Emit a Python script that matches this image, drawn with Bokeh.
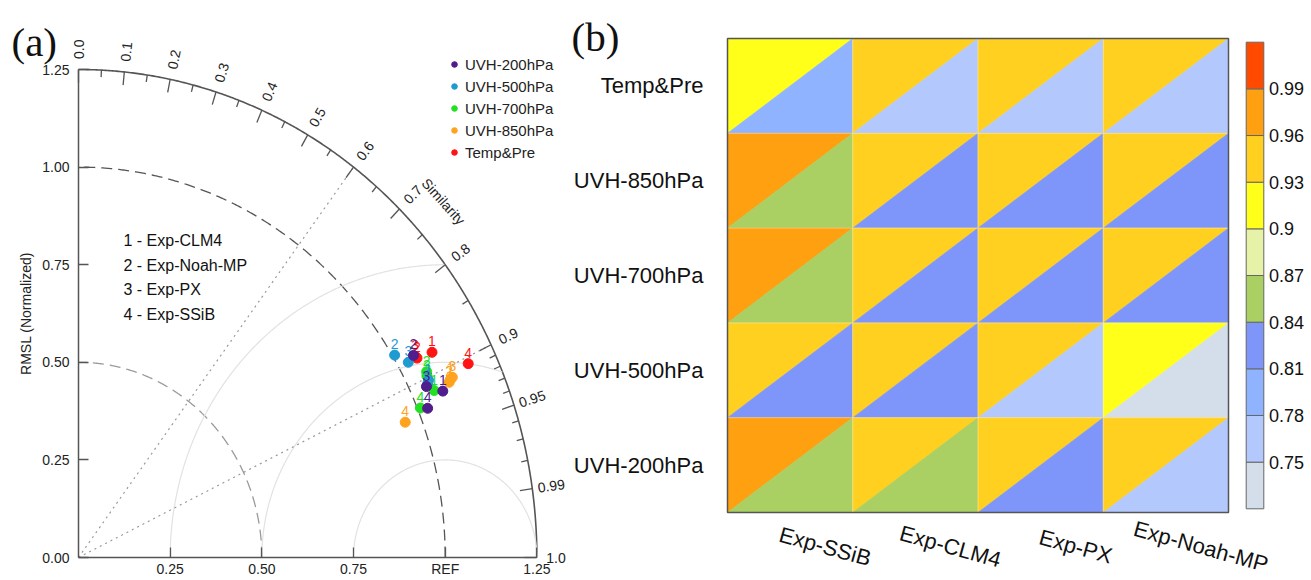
import numpy as np
from bokeh.plotting import figure
from bokeh.models import (Range1d, FixedTicker, NumeralTickFormatter, Legend,
                          LegendItem, LinearAxis, LinearColorMapper, ColumnDataSource)
from bokeh.layouts import row
from bokeh.core.properties import value
from bokeh.embed import file_html
from bokeh.resources import INLINE

SANS = "Liberation Sans"
SERIF = "Liberation Serif"

# ---------------- data: panel (a) Taylor diagram ----------------
exp_numbers = ["1", "2", "3", "4"]
exp_names = ["Exp-CLM4", "Exp-Noah-MP", "Exp-PX", "Exp-SSiB"]
series_names = ["UVH-200hPa", "UVH-500hPa", "UVH-700hPa", "UVH-850hPa", "Temp&Pre"]
series_colors = ["#4f1d8c", "#1f9bd1", "#22e022", "#ffa31f", "#ff1414"]

# normalized standard deviation ratio and correlation ("Similarity") per experiment 1..4
std_uvh200 = [1.081, 1.050, 1.045, 1.026]
cor_uvh200 = [0.919, 0.870, 0.908, 0.928]
std_uvh500 = [1.057, 1.006, 1.029, 1.051]
cor_uvh500 = [0.903, 0.857, 0.874, 0.906]
std_uvh700 = [1.060, 1.062, 1.058, 1.008]
cor_uvh700 = [0.915, 0.894, 0.898, 0.925]
std_uvh850 = [1.112, 1.106, 1.119, 0.956]
cor_uvh850 = [0.912, 0.914, 0.911, 0.932]
std_temppre = [1.098, 1.055, 1.053, 1.173]
cor_temppre = [0.878, 0.875, 0.872, 0.906]

corr_major = [0.0, 0.1, 0.2, 0.3, 0.4, 0.5, 0.6, 0.7, 0.8, 0.9, 0.95, 0.99, 1.0]
corr_major_labels = ["0.0", "0.1", "0.2", "0.3", "0.4", "0.5", "0.6", "0.7", "0.8",
                     "0.9", "0.95", "0.99", "1.0"]
corr_minor = [0.05, 0.15, 0.25, 0.35, 0.45, 0.55, 0.65, 0.75, 0.85,
              0.91, 0.92, 0.93, 0.94, 0.96, 0.97, 0.98]
std_ticks = [0.0, 0.25, 0.5, 0.75, 1.0, 1.25]
ref_ticks = [0.25, 0.5, 0.75, 1.0, 1.25]
rms_circles = [0.25, 0.5, 0.75]
corr_guides = [0.6, 0.9]

# ---------------- data: panel (b) triangle heat map ----------------
row_names = ["Temp&Pre", "UVH-850hPa", "UVH-700hPa", "UVH-500hPa", "UVH-200hPa"]  # top -> bottom
col_names = ["Exp-SSiB", "Exp-CLM4", "Exp-PX", "Exp-Noah-MP"]
upper_vals = [
    [0.91, 0.94, 0.94, 0.94],
    [0.97, 0.94, 0.94, 0.94],
    [0.97, 0.94, 0.94, 0.94],
    [0.94, 0.94, 0.94, 0.91],
    [0.97, 0.94, 0.94, 0.94],
]
lower_vals = [
    [0.79, 0.76, 0.76, 0.76],
    [0.85, 0.82, 0.82, 0.82],
    [0.85, 0.82, 0.82, 0.82],
    [0.82, 0.82, 0.76, 0.73],
    [0.85, 0.85, 0.82, 0.76],
]
level_low, level_high = 0.72, 1.02
level_labels = ["0.75", "0.78", "0.81", "0.84", "0.87", "0.9", "0.93", "0.96", "0.99"]
palette = ["#d3deea", "#b3c8fc", "#8fb3ff", "#7e96fa", "#aacf62",
           "#e5f2a8", "#ffff1a", "#ffd020", "#ffa010", "#ff4a00"]

H = 578
WA, WB = 568, 741

# =================== panel (a) ===================
PXX, PXY = 366.7, 390.4          # pixels per unit
OX, OY = 78, 557                 # origin in pixels
pa = figure(width=WA, height=H,
            x_range=Range1d(-OX / PXX, (WA - OX) / PXX),
            y_range=Range1d(-(H - OY) / PXY, OY / PXY),
            output_backend="svg", toolbar_location=None, min_border=0,
            x_axis_location=None, y_axis_location=None)
pa.outline_line_color = None
pa.xgrid.visible = False
pa.ygrid.visible = False

xax = LinearAxis(fixed_location=0, ticker=FixedTicker(ticks=ref_ticks))
yax = LinearAxis(fixed_location=0, ticker=FixedTicker(ticks=std_ticks))
for ax in (xax, yax):
    ax.bounds = (0, 1.25)
    ax.axis_line_color = "#555555"
    ax.axis_line_width = 1.5
    ax.major_tick_line_color = "#555555"
    ax.major_tick_line_width = 1.3
    ax.major_tick_in = 10
    ax.major_tick_out = 0
    ax.minor_tick_in = 0
    ax.minor_tick_out = 0
    ax.major_label_text_font = SANS
    ax.major_label_text_font_size = "14px"
    ax.major_label_text_color = "#222222"
    ax.formatter = NumeralTickFormatter(format="0.00")
xax.major_label_overrides = {1.0: "REF", "1": "REF"}
xax.major_label_standoff = 3
yax.major_label_standoff = 9
yax.axis_label = "RMSL (Normalized)"
yax.axis_label_text_font = SANS
yax.axis_label_text_font_style = "normal"
yax.axis_label_text_font_size = "14px"
yax.axis_label_text_color = "#222222"
yax.axis_label_standoff = 5
pa.add_layout(xax, "below")
pa.add_layout(yax, "left")

th = np.linspace(0, np.pi / 2, 400)
R_OUT = 1.25
pa.line(R_OUT * np.cos(th), R_OUT * np.sin(th), line_color="#555555", line_width=1.6)
pa.line(np.cos(th), np.sin(th), line_color="#555555", line_width=1.3, line_dash="11 6")
pa.line(0.5 * np.cos(th), 0.5 * np.sin(th), line_color="#9a9a9a", line_width=1.3,
        line_dash="11 6")

# RMS circles centred on REF
phi = np.linspace(0, np.pi, 600)
xs_r, ys_r = [], []
for rr in rms_circles:
    x = 1 + rr * np.cos(phi)
    y = rr * np.sin(phi)
    keep = x ** 2 + y ** 2 <= R_OUT ** 2 + 1e-9
    xs_r.append(list(x[keep]))
    ys_r.append(list(y[keep]))
pa.multi_line(xs_r, ys_r, line_color="#e2e2e2", line_width=1.2)

# dotted correlation guides
for c in corr_guides:
    a = np.arccos(c)
    pa.line([0, R_OUT * np.cos(a)], [0, R_OUT * np.sin(a)], line_color="#999999",
            line_width=1.2, line_dash="2 4")

# ticks on the outer (correlation) arc
def arc_ticks(vals, length):
    a = np.arccos(np.array(vals))
    return (R_OUT * np.cos(a), R_OUT * np.sin(a),
            (R_OUT - length) * np.cos(a), (R_OUT - length) * np.sin(a))

x0, y0, x1, y1 = arc_ticks(corr_major, 0.034)
pa.segment(x0, y0, x1, y1, line_color="#555555", line_width=1.3)
x0, y0, x1, y1 = arc_ticks(corr_minor, 0.018)
pa.segment(x0, y0, x1, y1, line_color="#555555", line_width=1.3)

ang = np.arccos(np.array(corr_major))
R_LAB = 1.302
pa.text(R_LAB * np.cos(ang), R_LAB * np.sin(ang), text=corr_major_labels, angle=ang,
        text_align="center", text_baseline="middle", text_font=value(SANS),
        text_font_size="14px", text_color="#222222")

sim_a = np.radians(42.5)
pa.text([1.35 * np.cos(sim_a)], [1.35 * np.sin(sim_a)], text=["Similarity"],
        angle=-0.84, text_align="center", text_baseline="middle",
        text_font=value(SANS), text_font_size="14px", text_color="#222222")

# points
series_std = [std_uvh200, std_uvh500, std_uvh700, std_uvh850, std_temppre]
series_cor = [cor_uvh200, cor_uvh500, cor_uvh700, cor_uvh850, cor_temppre]
renderers = {}
for k in [4, 3, 2, 1, 0]:
    s = np.array(series_std[k])
    a = np.arccos(np.array(series_cor[k]))
    src = ColumnDataSource(dict(x=s * np.cos(a), y=s * np.sin(a), lab=exp_numbers))
    renderers[k] = pa.scatter("x", "y", source=src, size=10, fill_color=series_colors[k],
                              line_color=series_colors[k])
    pa.text("x", "y", text="lab", source=src, y_offset=-6, text_align="center",
            text_baseline="bottom", text_font=value(SANS), text_font_size="14px",
            text_color=series_colors[k])

legend = Legend(items=[LegendItem(label=series_names[k], renderers=[renderers[k]])
                       for k in range(5)],
                location=(447, 416), padding=0, margin=0, spacing=2,
                glyph_width=14, glyph_height=20, label_height=20, label_standoff=4,
                border_line_color=None, background_fill_alpha=0,
                label_text_font=SANS, label_text_font_size="15px",
                label_text_color="#222222")
pa.add_layout(legend, "center")

key_text = [f"{n} - {e}" for n, e in zip(exp_numbers, exp_names)]
key_y0, key_dy = (OY - 240) / PXY, 24.7 / PXY
pa.text([(123 - OX) / PXX] * 4, [key_y0 - i * key_dy for i in range(4)], text=key_text,
        text_align="left", text_baseline="middle", text_font=value(SANS),
        text_font_size="16px", text_color="#111111")

pa.text([(11 - OX) / PXX], [(OY - 18) / PXY], text=["(a)"], text_align="left",
        text_baseline="top", text_font=value(SERIF), text_font_size="41px",
        text_color="#111111")

# =================== panel (b) ===================
CW, RH = 125.25, 94.8            # cell size in pixels
GX, GY = 727 - WA, 512           # grid bottom-left in panel pixels
pb = figure(width=WB, height=H,
            x_range=Range1d(-GX / CW, (WB - GX) / CW),
            y_range=Range1d(-(H - GY) / RH, GY / RH),
            output_backend="svg", toolbar_location=None, min_border=0,
            x_axis_location=None, y_axis_location=None)
pb.outline_line_color = None
pb.xgrid.visible = False
pb.ygrid.visible = False

nrow = len(row_names)
ncol = len(col_names)
ytick_pos = [nrow - 1 - r + 0.5 for r in range(nrow)]
overrides = {}
for pos, name in zip(ytick_pos, row_names):
    overrides[pos] = name
    overrides[str(pos)] = name
yb = LinearAxis(fixed_location=0, ticker=FixedTicker(ticks=ytick_pos),
                major_label_overrides=overrides)
yb.axis_line_color = None
yb.major_tick_line_color = None
yb.minor_tick_line_color = None
yb.major_label_standoff = 18
yb.major_label_text_font = SANS
yb.major_label_text_font_size = "22px"
yb.major_label_text_color = "#111111"
pb.add_layout(yb, "left")

mapper = LinearColorMapper(palette=palette, low=level_low, high=level_high)
xs, ys, vs = [], [], []
for r in range(nrow):
    j = nrow - 1 - r
    for i in range(ncol):
        xs.append([i, i, i + 1]); ys.append([j, j + 1, j + 1]); vs.append(upper_vals[r][i])
        xs.append([i, i + 1, i + 1]); ys.append([j, j + 1, j]); vs.append(lower_vals[r][i])
tsrc = ColumnDataSource(dict(xs=xs, ys=ys, v=vs))
pb.patches("xs", "ys", source=tsrc, fill_color={"field": "v", "transform": mapper},
           line_color={"field": "v", "transform": mapper}, line_width=0.6)

gx = [[i, i] for i in range(1, ncol)] + [[0, ncol] for _ in range(1, nrow)]
gy = [[0, nrow] for _ in range(1, ncol)] + [[j, j] for j in range(1, nrow)]
pb.multi_line(gx, gy, line_color="#ffffff", line_alpha=0.35, line_width=1)
pb.quad(left=[0], right=[ncol], bottom=[0], top=[nrow], fill_color=None,
        line_color="#555555", line_width=1.5)

# colour bar
nb = len(palette)
cb_left, cb_right = (1245.7 - 727) / CW, (1263.3 - 727) / CW
cb_bottom = (512 - 508.3) / RH
cb_h = (508.3 - 41.7) / nb / RH
pb.quad(left=[cb_left] * nb, right=[cb_right] * nb,
        bottom=[cb_bottom + k * cb_h for k in range(nb)],
        top=[cb_bottom + (k + 1) * cb_h for k in range(nb)],
        fill_color=palette, line_color="#666666", line_width=1)
pb.text([(1268.5 - 727) / CW] * len(level_labels),
        [cb_bottom + (k + 1) * cb_h for k in range(len(level_labels))],
        text=level_labels, text_align="left", text_baseline="middle",
        text_font=value(SANS), text_font_size="18px", text_color="#111111")

# column labels
pb.text([i + 0.5 + 0.28 for i in range(ncol)], [-(546 - 512) / RH] * ncol, text=col_names,
        angle=-0.27, text_align="center", text_baseline="middle",
        text_font=value(SANS), text_font_size="22px", text_color="#111111")

pb.text([(571 - 727) / CW], [(512 - 13) / RH], text=["(b)"], text_align="left",
        text_baseline="top", text_font=value(SERIF), text_font_size="41px",
        text_color="#111111")

layout = row(pa, pb)
open("out.html", "w").write(file_html(layout, INLINE))
